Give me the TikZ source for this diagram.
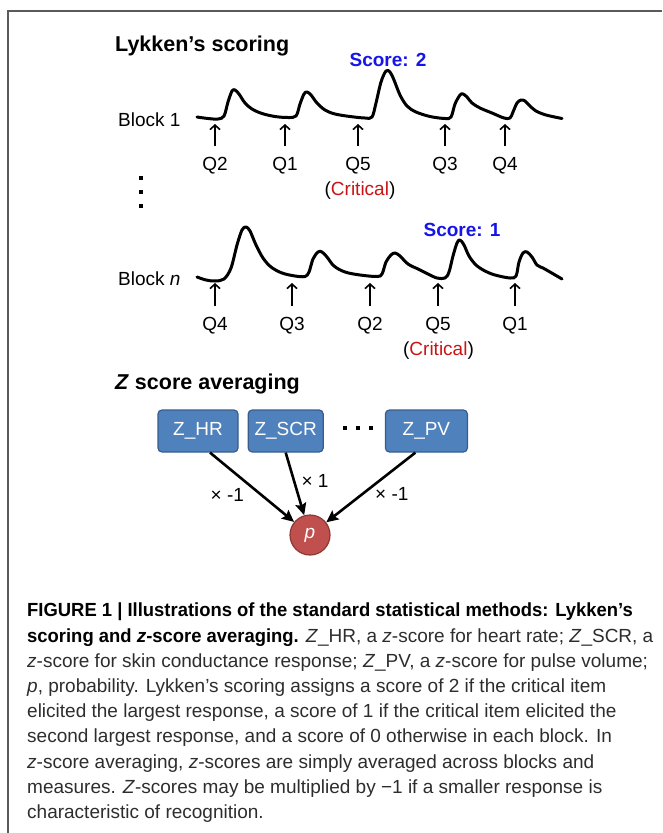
\documentclass[tikz,border=0pt]{standalone}
\usepackage{fontspec}
\setmainfont{Liberation Sans}
\newfontfamily\capfont{Liberation Sans}[BoldFeatures={FakeStretch=0.97}]
\usetikzlibrary{arrows.meta, positioning}
\definecolor{zfill}{RGB}{79,129,189}
\definecolor{zline}{RGB}{56,93,140}
\definecolor{pfill}{RGB}{192,80,77}
\definecolor{pline}{RGB}{140,56,54}
\definecolor{scoreblue}{RGB}{20,20,235}
\definecolor{critred}{RGB}{200,20,20}
\definecolor{framegray}{RGB}{90,90,90}
\definecolor{captext}{RGB}{45,45,45}

\begin{document}
\begin{tikzpicture}[
  x=1pt, y=-1pt,
  font=\fontsize{19}{22}\selectfont,
  lab/.style={inner sep=0pt, anchor=base},
  head/.style={inner sep=0pt, anchor=base west, font=\fontsize{21.5}{25}\selectfont\bfseries},
  score/.style={lab, text=scoreblue, font=\fontsize{19}{22}\selectfont\bfseries},
  tick/.style={-{Straight Barb[length=4.5pt, width=10pt, line width=1.6pt]}, line width=1.7pt, shorten <=10.5pt},
  wave/.style={line width=3pt, line join=round, line cap=round},
  zbox/.style={draw=zline, fill=zfill, text=white, rounded corners=4pt,
               line width=1.2pt, minimum height=42pt, inner sep=0pt},
  pnode/.style={circle, draw=pline, fill=pfill, text=white, line width=1.2pt,
                minimum size=40pt, inner sep=0pt},
  weight/.style={-{Stealth[length=12pt, width=11pt, inset=2pt]}, line width=2.6pt},
  wlab/.style={inner sep=0pt, font=\fontsize{19}{20}\selectfont},
]
\useasboundingbox (0,0) rectangle (662,833);
\draw[framegray, line width=1.5pt] (662,11) -| (8,833);

% Lykken's scoring
\node[head] (lyk) at (115,51.7) {Lykken’s scoring};
\node[lab, anchor=base west] (blk1) at (118,126.7) {Block 1};
\node[score] (sc2) at (388,66.7) {Score: 2};
\draw[wave] plot[smooth, tension=0.55] coordinates {
  (197,117) (208,118.5) (218,119) (224,116) (228,102) (232,91) (235,90) (239,94)
  (245,103) (252,109) (262,113.5) (275,116.5) (288,117.5) (296,116)
  (300,104) (304,94) (307,92) (311,95) (317,103) (325,110) (335,114) (350,116.5)
  (365,118) (372,117)
  (376,103) (381,82) (386,71) (390,72) (394,80) (400,95) (407,106) (416,112)
  (430,116.5) (445,118.5) (451,117)
  (455,104) (460,95) (463,94) (467,97) (472,103) (480,108) (492,113) (504,118)
  (510,118) (513,112)
  (517,103) (521,100) (525,101) (530,106) (536,111) (546,115) (562,118.5)};
\node[lab] (a1) at (215,170) {Q2};
\node[lab] (a2) at (285,170) {Q1};
\node[lab] (a3) at (358,170) {Q5};
\node[lab] (a4) at (445,170) {Q3};
\node[lab] (a5) at (505,170) {Q4};
\node[lab] (crit1) at (360,195.5) {(\textcolor{critred}{Critical})};
\coordinate (ta1) at (215,124);
\coordinate (ta2) at (285,124);
\coordinate (ta3) at (358,124);
\coordinate (ta4) at (445,124);
\coordinate (ta5) at (505,124);
\draw[tick] (a1) -- (ta1);
\draw[tick] (a2) -- (ta2);
\draw[tick] (a3) -- (ta3);
\draw[tick] (a4) -- (ta4);
\draw[tick] (a5) -- (ta5);

\fill (139,176) rectangle (143,180);
\fill (139,190) rectangle (143,194);
\fill (139,204) rectangle (143,208);

\node[lab, anchor=base west] (blkn) at (118,285) {Block \textit{n}};
\node[score] (sc1) at (462,236.7) {Score: 1};
\draw[wave] plot[smooth, tension=0.55] coordinates {
  (197,277) (206,280) (215,281) (224,279) (231,268) (237,245) (242,230) (246,227)
  (250,231) (256,245) (263,258) (271,267) (282,273) (295,276) (305,276.5) (309,272)
  (313,259) (318,252) (322,252) (327,257) (334,266) (345,272) (360,275) (377,276.5)
  (382,274)
  (386,262) (391,255) (395,253) (400,256) (408,264) (418,269) (428,274) (437,278)
  (445,278) (449,272)
  (453,256) (457,243) (460,240) (464,245) (469,256) (476,265) (485,271) (495,275)
  (510,278) (516,276)
  (519,262) (523,253) (527,252) (532,257) (537,265) (543,268) (550,272) (562,279)};
\node[lab] (b1) at (215,330) {Q4};
\node[lab] (b2) at (292,330) {Q3};
\node[lab] (b3) at (370,330) {Q2};
\node[lab] (b4) at (438,330) {Q5};
\node[lab] (b5) at (515,330) {Q1};
\node[lab] (crit2) at (438.5,355) {(\textcolor{critred}{Critical})};
\coordinate (tb1) at (215,283);
\coordinate (tb2) at (292,283);
\coordinate (tb3) at (370,283);
\coordinate (tb4) at (438,283);
\coordinate (tb5) at (515,283);
\draw[tick] (b1) -- (tb1);
\draw[tick] (b2) -- (tb2);
\draw[tick] (b3) -- (tb3);
\draw[tick] (b4) -- (tb4);
\draw[tick] (b5) -- (tb5);

% Z score averaging
\node[head] (zavg) at (115,389.3) {\textit{Z} score averaging};
\node[zbox, minimum width=80pt] (zhr) at (198,431) {Z\_HR};
\node[zbox, minimum width=75pt, right=9pt of zhr] (zscr) {Z\_SCR};
\node[zbox, minimum width=82pt, right=61pt of zscr] (zpv) {Z\_PV};
\fill (343,426) rectangle (347,430);
\fill (356,426) rectangle (360,430);
\fill (369,426) rectangle (373,430);
\node[pnode] (p) at (310,535) {\textit{p}};
\draw[weight] ([xshift=12pt]zhr.south) -- node[wlab, pos=0.61, left=16pt] {× -1} (p);
\draw[weight] (zscr.south) -- node[wlab, pos=0.46, right=6pt] {× 1} (p);
\draw[weight] ([xshift=-11pt]zpv.south) -- node[wlab, pos=0.6, right=12pt] {× -1} (p);

\node[anchor=north west, inner sep=0pt, align=left, text=captext,
      font=\capfont\fontsize{19}{25.2}\selectfont] (cap) at (27,603) {%
{\bfseries\color{black}FIGURE 1 | Illustrations of the standard statistical methods: Lykken’s}\\
{\bfseries\color{black}scoring and \textit{z}-score averaging.} \textit{Z}\_HR, a \textit{z}-score for heart rate; \textit{Z}\_SCR, a\\
\textit{z}-score for skin conductance response; \textit{Z}\_PV, a \textit{z}-score for pulse volume;\\
\textit{p}, probability. Lykken’s scoring assigns a score of 2 if the critical item\\
elicited the largest response, a score of 1 if the critical item elicited the\\
second largest response, and a score of 0 otherwise in each block. In\\
\textit{z}-score averaging, \textit{z}-scores are simply averaged across blocks and\\
measures. \textit{Z}-scores may be multiplied by −1 if a smaller response is\\
characteristic of recognition.};
\end{tikzpicture}
\end{document}
